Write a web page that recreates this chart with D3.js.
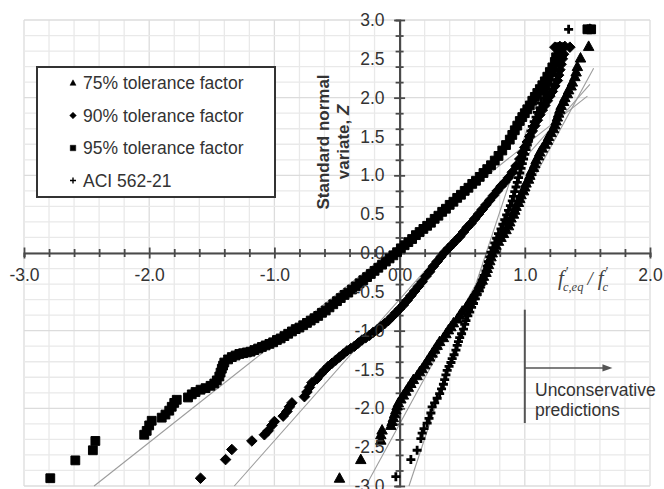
<!DOCTYPE html>
<html>
<head>
<meta charset="utf-8">
<script src="https://cdn.jsdelivr.net/npm/d3@7"></script>
<style>
  body { margin: 0; background: #fff; }
  svg { display: block; }
</style>
</head>
<body>
<svg id="chart" width="664" height="489"></svg>
<script>
// Axis tick labels
const xTickLabels = [-3, -2, -1, 0, 1, 2];
const zTickLabels = [-3, -2.5, -2, -1.5, -1, -0.5, 0, 0.5, 1, 1.5, 2, 2.5, 3];

const legendLabels = ["75% tolerance factor", "90% tolerance factor", "95% tolerance factor", "ACI 562-21"];

// Normal probability points: [f'c,eq / f'c (log scale), standard normal variate Z]
const tol95 = [
  [-2.79,-2.90],[-2.59,-2.67],[-2.45,-2.54],[-2.43,-2.42],
  [-2.04,-2.34],[-2.02,-2.29],[-2.00,-2.22],[-1.98,-2.16],
  [-1.90,-2.12],[-1.87,-2.08],[-1.84,-2.03],[-1.82,-1.98],[-1.80,-1.93],[-1.78,-1.89],
  [-1.69,-1.86],[-1.66,-1.82],[-1.63,-1.79],[-1.59,-1.76],[-1.55,-1.74],[-1.51,-1.71],[-1.48,-1.68],
  [-1.46,-1.64],[-1.44,-1.59],[-1.43,-1.54],[-1.42,-1.49],[-1.41,-1.45],
  [-1.40,-1.41],[-1.37,-1.37],[-1.34,-1.34],[-1.31,-1.32],[-1.28,-1.30],[-1.25,-1.29],[-1.22,-1.28],
  [-1.19,-1.27],[-1.16,-1.25],[-1.13,-1.23],[-1.10,-1.21],[-1.07,-1.19],[-1.04,-1.17],[-1.01,-1.15],
  [-0.98,-1.12],[-0.95,-1.10],[-0.92,-1.07],[-0.89,-1.04],[-0.86,-1.01],[-0.83,-0.98],[-0.80,-0.96],
  [-0.77,-0.93],[-0.74,-0.90],[-0.71,-0.87],[-0.68,-0.84],[-0.65,-0.81],[-0.62,-0.77],[-0.59,-0.74],
  [-0.56,-0.70],[-0.53,-0.66],[-0.50,-0.62],[-0.47,-0.58],[-0.44,-0.54],[-0.41,-0.51],[-0.38,-0.47],
  [-0.35,-0.43],[-0.32,-0.39],[-0.29,-0.35],[-0.26,-0.31],[-0.23,-0.27],[-0.20,-0.23],[-0.17,-0.19],
  [-0.14,-0.15],[-0.11,-0.11],[-0.08,-0.07],[-0.05,-0.03],[-0.02,0.01],
  [0.01,0.06],[0.04,0.10],[0.07,0.14],[0.10,0.18],[0.13,0.23],[0.16,0.27],[0.19,0.31],[0.22,0.35],
  [0.25,0.39],[0.28,0.44],[0.31,0.48],[0.34,0.53],[0.37,0.57],[0.40,0.62],[0.43,0.66],[0.46,0.71],
  [0.49,0.75],[0.52,0.80],[0.55,0.84],[0.58,0.89],[0.61,0.93],[0.64,0.98],[0.67,1.03],[0.70,1.08],
  [0.73,1.13],[0.76,1.19],[0.79,1.25],[0.82,1.32],[0.85,1.39],[0.88,1.46],[0.90,1.52],[0.92,1.58],
  [0.94,1.64],[0.96,1.70],[0.98,1.75],[1.00,1.80],[1.02,1.85],[1.04,1.90],[1.06,1.96],[1.08,2.01],
  [1.10,2.06],[1.12,2.11],[1.14,2.16],[1.16,2.21],[1.18,2.27],[1.20,2.33],[1.22,2.39],[1.24,2.46],
  [1.25,2.52],[1.27,2.57],[1.28,2.65],[1.50,2.88],[1.53,2.88]
];

const tol90 = [
  [-1.59,-2.90],[-1.39,-2.66],[-1.34,-2.53],[-1.18,-2.42],[-1.08,-2.34],[-1.05,-2.29],[-1.02,-2.22],
  [-1.00,-2.17],[-0.93,-2.10],[-0.90,-2.04],[-0.88,-1.98],[-0.86,-1.93],[-0.76,-1.85],[-0.74,-1.79],
  [-0.72,-1.73],[-0.70,-1.67],[-0.66,-1.62],[-0.63,-1.56],[-0.60,-1.51],[-0.57,-1.46],
  [-0.54,-1.42],[-0.51,-1.38],[-0.48,-1.34],[-0.45,-1.30],[-0.42,-1.26],[-0.39,-1.23],[-0.36,-1.20],
  [-0.33,-1.16],[-0.30,-1.12],[-0.27,-1.09],[-0.24,-1.06],[-0.21,-1.02],[-0.18,-0.99],[-0.15,-0.95],
  [-0.12,-0.91],[-0.09,-0.87],[-0.06,-0.82],[-0.03,-0.77],[0.00,-0.72],[0.03,-0.67],[0.06,-0.61],
  [0.09,-0.55],[0.12,-0.49],[0.15,-0.43],[0.18,-0.37],[0.21,-0.30],[0.24,-0.24],[0.27,-0.17],
  [0.30,-0.11],[0.33,-0.05],[0.36,0.01],[0.39,0.06],[0.42,0.11],[0.45,0.16],[0.48,0.21],[0.51,0.27],
  [0.54,0.33],[0.57,0.38],[0.60,0.44],[0.63,0.50],[0.66,0.56],[0.69,0.62],[0.72,0.68],[0.75,0.74],
  [0.78,0.80],[0.81,0.86],[0.84,0.91],[0.87,0.97],[0.90,1.04],[0.93,1.12],[0.96,1.21],[0.98,1.29],
  [1.00,1.36],[1.02,1.43],[1.04,1.50],[1.06,1.57],[1.08,1.64],[1.10,1.71],[1.12,1.78],[1.14,1.84],
  [1.16,1.90],[1.18,1.96],[1.20,2.02],[1.22,2.08],[1.24,2.15],[1.26,2.22],[1.27,2.29],[1.28,2.36],
  [1.29,2.43],[1.30,2.50],[1.31,2.56],
  [1.24,2.65],[1.28,2.66],[1.32,2.66],[1.36,2.65]
];

const tol75 = [
  [-0.48,-2.90],[-0.31,-2.66],[-0.15,-2.41],[-0.15,-2.34],[-0.14,-2.28],
  [-0.07,-2.22],[-0.06,-2.17],[-0.05,-2.12],[-0.04,-2.07],[-0.03,-2.02],[-0.02,-1.97],[-0.01,-1.93],
  [0.01,-1.88],[0.03,-1.83],[0.05,-1.78],[0.07,-1.73],[0.09,-1.68],[0.11,-1.63],[0.14,-1.58],
  [0.16,-1.53],[0.18,-1.49],[0.20,-1.44],[0.22,-1.39],[0.24,-1.34],[0.26,-1.29],[0.28,-1.24],
  [0.30,-1.19],[0.32,-1.14],[0.35,-1.09],[0.37,-1.04],[0.39,-0.99],[0.41,-0.95],[0.43,-0.90],
  [0.46,-0.85],[0.48,-0.80],[0.50,-0.75],[0.53,-0.70],[0.55,-0.65],[0.57,-0.60],[0.59,-0.55],
  [0.61,-0.50],[0.63,-0.45],[0.64,-0.40],[0.66,-0.35],[0.67,-0.30],[0.69,-0.25],[0.70,-0.20],
  [0.71,-0.15],[0.72,-0.10],[0.73,-0.05],[0.74,0.00],[0.76,0.05],[0.77,0.10],[0.79,0.15],
  [0.81,0.20],[0.83,0.25],[0.85,0.30],[0.87,0.35],[0.88,0.40],[0.89,0.45],[0.91,0.50],[0.92,0.55],
  [0.93,0.60],[0.95,0.65],[0.96,0.70],[0.97,0.75],[0.99,0.80],[1.00,0.85],[1.01,0.90],[1.03,0.95],
  [1.04,1.00],[1.05,1.05],[1.07,1.10],[1.08,1.15],[1.09,1.20],[1.11,1.25],[1.12,1.30],[1.14,1.35],
  [1.16,1.40],[1.18,1.45],[1.19,1.50],[1.21,1.55],[1.23,1.60],[1.24,1.65],[1.25,1.70],[1.26,1.75],
  [1.27,1.80],[1.28,1.85],[1.29,1.90],[1.31,1.95],[1.32,2.00],[1.34,2.05],[1.35,2.10],[1.37,2.15],
  [1.38,2.20],[1.40,2.27],[1.41,2.33],[1.42,2.40],[1.445,2.51],[1.51,2.66],[1.52,2.88]
];

const aci562 = [
  [-0.03,-2.88],[0.09,-2.66],[0.14,-2.54],[0.17,-2.39],[0.18,-2.32],[0.195,-2.26],[0.22,-2.19],
  [0.235,-2.13],[0.25,-2.06],
  [0.26,-1.98],[0.28,-1.93],[0.30,-1.87],[0.32,-1.81],[0.335,-1.75],[0.35,-1.69],[0.36,-1.63],
  [0.37,-1.57],[0.38,-1.51],[0.395,-1.46],[0.41,-1.41],[0.42,-1.36],[0.435,-1.31],[0.45,-1.25],
  [0.46,-1.19],[0.47,-1.14],[0.48,-1.09],[0.495,-1.04],[0.51,-0.98],[0.52,-0.92],[0.53,-0.87],
  [0.545,-0.81],[0.56,-0.76],[0.575,-0.70],[0.59,-0.65],[0.605,-0.59],[0.62,-0.53],[0.635,-0.47],
  [0.65,-0.41],[0.66,-0.35],[0.675,-0.29],[0.69,-0.23],[0.70,-0.17],[0.71,-0.11],[0.72,-0.05],
  [0.73,0.01],[0.745,0.07],[0.76,0.13],[0.775,0.19],[0.79,0.25],[0.81,0.31],[0.825,0.37],
  [0.84,0.43],[0.855,0.49],[0.87,0.55],[0.885,0.61],[0.90,0.67],[0.91,0.73],[0.92,0.79],
  [0.93,0.85],[0.94,0.91],[0.95,0.97],[0.96,1.03],[0.97,1.09],[0.98,1.15],[0.99,1.21],[1.00,1.27],
  [1.01,1.33],[1.02,1.39],[1.03,1.45],[1.04,1.51],[1.05,1.57],[1.06,1.63],[1.075,1.69],[1.09,1.75],
  [1.10,1.81],[1.12,1.87],[1.13,1.93],[1.15,1.99],[1.16,2.05],[1.18,2.11],[1.19,2.17],[1.21,2.23],
  [1.22,2.29],[1.24,2.36],[1.25,2.43],[1.27,2.50],[1.29,2.58],[1.35,2.88]
];

// Fitted normal lines (end points in data units)
const fit95 = [[-2.44,-3.0],[1.50,2.02]];
const fit90 = [[-1.32,-3.0],[1.52,2.17]];
const fit75 = [[-0.27,-3.0],[1.55,2.38]];
const fitAci = [[0.075,-3.0],[1.02,1.60]];

const svg = d3.select("#chart");
const font = "Arial, 'Liberation Sans', sans-serif";
const textColor = "#333";
const fs = 17.5;

const x = d3.scaleLinear().domain([-3, 2]).range([24, 650]);
const y = d3.scaleLinear().domain([-3, 3]).range([486, 20]);

// Grid
const grid = svg.append("g");
grid.selectAll(".vx").data(x.ticks(20)).join("line")
  .attr("x1", d => x(d)).attr("x2", d => x(d))
  .attr("y1", y(3)).attr("y2", y(-3))
  .attr("stroke", d => Math.abs(d - Math.round(d)) < 1e-9 ? "#dcdcdc" : "#e9e9e9")
  .attr("stroke-width", 1.3);
grid.selectAll(".hz").data(y.ticks(24)).join("line")
  .attr("x1", x(-3)).attr("x2", x(2))
  .attr("y1", d => y(d)).attr("y2", d => y(d))
  .attr("stroke", d => Math.abs(d * 2 - Math.round(d * 2)) < 1e-9 ? "#dcdcdc" : "#e9e9e9")
  .attr("stroke-width", 1.3);

// Fitted lines
const fitG = svg.append("g");
[fit95, fit90, fit75, fitAci].forEach(seg => {
  fitG.append("line")
    .attr("x1", x(seg[0][0])).attr("y1", y(seg[0][1]))
    .attr("x2", x(seg[1][0])).attr("y2", y(seg[1][1]))
    .attr("stroke", "#9c9c9c").attr("stroke-width", 1.1);
});

// Axes crossing at the origin
const axisColor = "#4a4a4a";
const xAxisG = svg.append("g").attr("transform", `translate(0,${y(0)})`)
  .call(d3.axisBottom(x).tickValues(x.ticks(20)).tickSize(4).tickFormat(""));
xAxisG.select(".domain").attr("stroke", axisColor).attr("stroke-width", 2.2);
xAxisG.selectAll(".tick line")
  .attr("y1", d => Math.abs(d - Math.round(d)) < 1e-9 ? -5.5 : -4)
  .attr("y2", d => Math.abs(d - Math.round(d)) < 1e-9 ? 5.5 : 4)
  .attr("stroke", axisColor).attr("stroke-width", 1.8);

const yAxisG = svg.append("g").attr("transform", `translate(${x(0)},0)`)
  .call(d3.axisLeft(y).tickValues(y.ticks(24)).tickSize(4).tickFormat(""));
yAxisG.select(".domain").attr("stroke", axisColor).attr("stroke-width", 2.2);
yAxisG.selectAll(".tick line")
  .attr("x1", d => Math.abs(d * 2 - Math.round(d * 2)) < 1e-9 ? -5.5 : -4)
  .attr("x2", d => Math.abs(d * 2 - Math.round(d * 2)) < 1e-9 ? 5.5 : 4)
  .attr("stroke", axisColor).attr("stroke-width", 1.8);

// Marker shapes
function markerPath(kind, s) {
  const p = d3.path();
  const h = s / 2;
  if (kind === "square") {
    p.rect(-h, -h, s, s);
  } else if (kind === "diamond") {
    const r = h * 1.2;
    p.moveTo(0, -r); p.lineTo(r, 0); p.lineTo(0, r); p.lineTo(-r, 0); p.closePath();
  } else if (kind === "triangle") {
    p.moveTo(0, -s * 0.58); p.lineTo(s * 0.55, s * 0.42); p.lineTo(-s * 0.55, s * 0.42); p.closePath();
  } else {
    p.moveTo(-h, 0); p.lineTo(h, 0); p.moveTo(0, -h); p.lineTo(0, h);
  }
  return p.toString();
}

const series = [
  { label: legendLabels[0], data: tol75, kind: "triangle", size: 9.5 },
  { label: legendLabels[1], data: tol90, kind: "diamond", size: 8.8 },
  { label: legendLabels[2], data: tol95, kind: "square", size: 8.8 },
  { label: legendLabels[3], data: aci562, kind: "plus", size: 9 }
];

const ptsG = svg.append("g");
series.forEach(s => {
  const isPlus = s.kind === "plus";
  ptsG.append("g").selectAll("path").data(s.data).join("path")
    .attr("transform", d => `translate(${x(d[0])},${y(d[1])})`)
    .attr("d", markerPath(s.kind, s.size))
    .attr("fill", isPlus ? "none" : "#000")
    .attr("stroke", "#000")
    .attr("stroke-width", isPlus ? 2.8 : 1);
});

// Tick labels (drawn over the points)
const xLab = svg.append("g").attr("transform", `translate(0,${y(0)})`)
  .call(d3.axisBottom(x).tickValues(xTickLabels).tickSize(0).tickPadding(16)
    .tickFormat(d => d.toFixed(1)));
xLab.select(".domain").remove();
xLab.selectAll("text").attr("font-family", font).attr("font-size", fs).attr("fill", textColor);

const yLab = svg.append("g").attr("transform", `translate(${x(0)},0)`)
  .call(d3.axisLeft(y).tickValues(zTickLabels).tickSize(0).tickPadding(15)
    .tickFormat(d => d.toFixed(1)));
yLab.select(".domain").remove();
yLab.selectAll("text").attr("font-family", font).attr("font-size", fs).attr("fill", textColor);

// Y axis title (two lines, rotated)
const yTitle = svg.append("text")
  .attr("transform", `translate(329,${y(1.43)}) rotate(-90)`)
  .attr("text-anchor", "middle")
  .attr("font-family", font).attr("font-size", 17).attr("font-weight", "bold")
  .attr("fill", textColor);
yTitle.append("tspan").attr("x", 0).attr("y", 0).text("Standard normal");
const l2 = yTitle.append("tspan").attr("x", 0).attr("y", 20);
l2.append("tspan").text("variate, ");
l2.append("tspan").attr("font-style", "italic").text("Z");

// X axis title: f'c,eq / f'c
const serif = "'Liberation Serif', 'Times New Roman', serif";
const xt = svg.append("text").attr("x", 558).attr("y", 285)
  .attr("fill", "#444").attr("font-family", serif).attr("font-style", "italic").attr("font-size", 21);
xt.append("tspan").text("f");
xt.append("tspan").attr("dx", 2).attr("dy", -8).attr("font-size", 14).attr("font-style", "normal").text("′");
xt.append("tspan").attr("dx", -6).attr("dy", 14).attr("font-size", 12.5).text("c,eq");
xt.append("tspan").attr("dx", 4).attr("dy", -6).attr("font-size", 19).text("/");
xt.append("tspan").attr("dx", 5).text("f");
xt.append("tspan").attr("dx", 2).attr("dy", -8).attr("font-size", 14).attr("font-style", "normal").text("′");
xt.append("tspan").attr("dx", -6).attr("dy", 14).attr("font-size", 12.5).text("c");

// Unconservative predictions marker
const annX = 1.0, annTop = -0.73, annBot = -2.19, annArrowZ = -1.48, annArrowEnd = 1.7;
svg.append("line")
  .attr("x1", x(annX)).attr("x2", x(annX)).attr("y1", y(annTop)).attr("y2", y(annBot))
  .attr("stroke", "#555").attr("stroke-width", 2);
svg.append("line")
  .attr("x1", x(annX)).attr("x2", x(annArrowEnd) - 6).attr("y1", y(annArrowZ)).attr("y2", y(annArrowZ))
  .attr("stroke", "#555").attr("stroke-width", 1.6);
svg.append("path")
  .attr("d", `M${x(annArrowEnd)},${y(annArrowZ)} l-10,-3.6 l0,7.2 Z`)
  .attr("fill", "#555");
const ann = svg.append("text").attr("font-family", font).attr("font-size", fs).attr("fill", textColor);
ann.append("tspan").attr("x", 535).attr("y", 396).text("Unconservative");
ann.append("tspan").attr("x", 535).attr("y", 416).text("predictions");

// Legend
const lg = svg.append("g");
lg.append("rect").attr("x", 37).attr("y", 67).attr("width", 238).attr("height", 130)
  .attr("fill", "#fff").attr("stroke", "#333").attr("stroke-width", 2);
series.forEach((s, i) => {
  const cy = 83 + i * 32.5;
  const isPlus = s.kind === "plus";
  lg.append("path").attr("transform", `translate(73,${cy})`)
    .attr("d", markerPath(s.kind, isPlus ? 6 : 5.5))
    .attr("fill", isPlus ? "none" : "#000").attr("stroke", "#000")
    .attr("stroke-width", isPlus ? 1.4 : 0.5);
  lg.append("text").attr("x", 83).attr("y", cy).attr("dy", "0.35em")
    .attr("font-family", font).attr("font-size", fs).attr("fill", textColor)
    .text(s.label);
});
</script>
</body>
</html>
